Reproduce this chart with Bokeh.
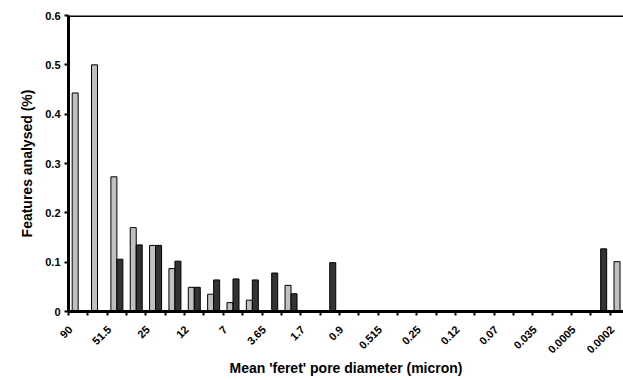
from bokeh.plotting import figure
from bokeh.models import Range1d, FixedTicker, CustomJSTickFormatter, Span
from bokeh.embed import file_html
from bokeh.resources import INLINE

# ---- data ----
tick_labels = ["90", "51.5", "25", "12", "7", "3.65", "1.7", "0.9", "0.515",
               "0.25", "0.12", "0.07", "0.035", "0.0005", "0.0002"]
n_bins = 29  # labelled every other bin
light_series = [0.443, 0.500, 0.273, 0.170, 0.134, 0.087, 0.049, 0.035, 0.018,
                0.023, 0.0, 0.053, 0.0, 0.0, 0.0, 0.0, 0.0, 0.0, 0.0, 0.0,
                0.0, 0.0, 0.0, 0.0, 0.0, 0.0, 0.0, 0.0, 0.101]
dark_series = [0.0, 0.0, 0.106, 0.135, 0.134, 0.102, 0.049, 0.064, 0.066,
               0.064, 0.078, 0.036, 0.0, 0.099, 0.0, 0.0, 0.0, 0.0, 0.0, 0.0,
               0.0, 0.0, 0.0, 0.0, 0.0, 0.0, 0.0, 0.127, 0.0]
y_ticks = [0, 0.1, 0.2, 0.3, 0.4, 0.5, 0.6]
y_max = 0.6

FONT = "Liberation Sans"
LIGHT = "#c0c0c0"
DARK = "#333333"

p = figure(width=623, height=380, output_backend="svg", toolbar_location=None,
           x_range=Range1d(0, 28.68), y_range=Range1d(0, y_max),
           min_border_left=68, min_border_right=0, min_border_top=15,
           min_border_bottom=69)
p.outline_line_color = None
p.xgrid.visible = False
p.ygrid.visible = False
p.background_fill_color = "white"
p.border_fill_color = "white"

BW = 0.31
lx = [i + 0.19 + BW / 2 for i in range(n_bins) if light_series[i] > 0]
ly = [v for v in light_series if v > 0]
dx = [i + 0.5 + BW / 2 for i in range(n_bins) if dark_series[i] > 0]
dy = [v for v in dark_series if v > 0]

p.vbar(x=lx, top=ly, bottom=0, width=BW, fill_color=LIGHT, line_color="black", line_width=1)
p.vbar(x=dx, top=dy, bottom=0, width=BW, fill_color=DARK, line_color="black", line_width=1)

# top border line
p.add_layout(Span(location=y_max, dimension="width", line_color="black", line_width=3))

# x axis
label_pos = [2 * k + 0.1 for k in range(len(tick_labels))]
xa = p.xaxis[0]
xa.ticker = FixedTicker(ticks=label_pos, minor_ticks=list(range(n_bins)))
xa.major_label_overrides = {pos: lab for pos, lab in zip(label_pos, tick_labels)}
xa.major_label_orientation = 0.785398
xa.major_tick_line_color = None
xa.major_tick_out = 4
xa.major_tick_in = 0
xa.minor_tick_out = 4
xa.minor_tick_in = 0
xa.minor_tick_line_width = 2
xa.minor_tick_line_color = "black"
xa.axis_line_width = 3
xa.axis_line_color = "black"
xa.major_label_text_font = FONT
xa.major_label_text_font_style = "bold"
xa.major_label_text_font_size = "11px"
xa.major_label_text_color = "black"
xa.major_label_standoff = 12
xa.axis_label = "Mean 'feret' pore diameter (micron)"
xa.axis_label_text_font = FONT
xa.axis_label_text_font_style = "bold"
xa.axis_label_text_font_size = "14px"
xa.axis_label_text_color = "black"
xa.axis_label_standoff = 0

# y axis
ya = p.yaxis[0]
ya.ticker = FixedTicker(ticks=y_ticks)
ya.formatter = CustomJSTickFormatter(code="return tick === 0 ? '0' : tick.toFixed(1);")
ya.major_tick_out = 4
ya.major_tick_in = 0
ya.major_tick_line_width = 2
ya.minor_tick_line_color = None
ya.axis_line_width = 3
ya.axis_line_color = "black"
ya.major_label_text_font = FONT
ya.major_label_text_font_style = "bold"
ya.major_label_text_font_size = "11px"
ya.major_label_text_color = "black"
ya.major_label_standoff = 4
ya.axis_label = "Features analysed (%)"
ya.axis_label_text_font = FONT
ya.axis_label_text_font_style = "bold"
ya.axis_label_text_font_size = "14px"
ya.axis_label_text_color = "black"
ya.axis_label_standoff = 7

open("out.html", "w").write(file_html(p, INLINE))
